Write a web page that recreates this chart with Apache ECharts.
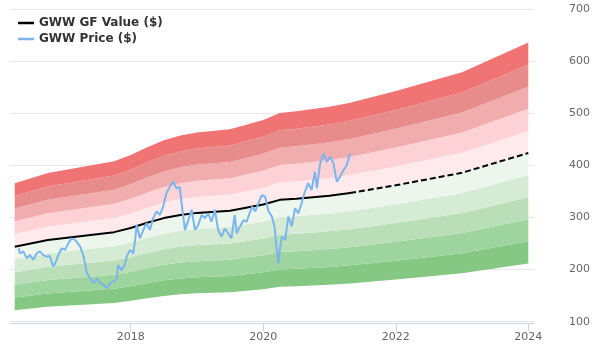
<!DOCTYPE html>
<html>
<head>
<meta charset="utf-8">
<script src="https://cdn.jsdelivr.net/npm/echarts@6/dist/echarts.min.js"></script>
<style>html,body{margin:0;padding:0;background:#fff}#c{width:600px;height:360px}</style>
</head>
<body>
<div id="c"></div>
<script>
// GF Value (decimal years / $)
var gfYears  = [2016.25, 2016.75, 2017.75, 2018.0, 2018.25, 2018.5, 2018.75, 2019.0, 2019.5, 2020.0, 2020.25, 2020.5, 2021.0, 2021.31, 2022.0, 2023.0, 2024.0];
var gfValues = [244, 257, 272, 280, 290, 299, 305, 309, 313, 325, 334, 336, 342, 347, 362, 386, 424];
var gfSolidEnd = 13; // index of last historical GF point (dashed afterwards)

// Price (decimal years / $)
var priceYears = [2016.31,2016.33,2016.38,2016.43,2016.48,2016.53,2016.58,2016.63,2016.68,2016.73,2016.78,2016.83,2016.86,2016.91,2016.96,2017.01,2017.06,2017.11,2017.16,2017.24,2017.29,2017.34,2017.39,2017.44,2017.49,2017.54,2017.59,2017.64,2017.69,2017.74,2017.79,2017.81,2017.86,2017.91,2017.94,2017.99,2018.04,2018.07,2018.09,2018.14,2018.19,2018.24,2018.29,2018.34,2018.39,2018.44,2018.49,2018.54,2018.59,2018.64,2018.69,2018.74,2018.78,2018.82,2018.87,2018.92,2018.97,2019.02,2019.07,2019.12,2019.17,2019.22,2019.27,2019.32,2019.37,2019.42,2019.47,2019.52,2019.57,2019.60,2019.65,2019.70,2019.75,2019.83,2019.88,2019.93,2019.98,2020.03,2020.08,2020.13,2020.17,2020.20,2020.23,2020.25,2020.28,2020.33,2020.38,2020.43,2020.48,2020.53,2020.58,2020.63,2020.68,2020.73,2020.78,2020.81,2020.86,2020.91,2020.96,2021.01,2021.06,2021.11,2021.16,2021.21,2021.26,2021.31];
var priceValues = [241,231,235,222,228,219,231,235,228,225,226,206,212,228,241,238,251,260,257,244,225,193,183,174,183,174,171,164,174,177,183,209,199,209,225,238,231,260,286,260,276,289,276,299,312,305,321,347,359,369,356,359,315,276,295,315,276,286,305,299,308,292,315,276,263,279,270,260,305,270,283,295,292,321,312,328,343,340,312,302,283,244,212,238,263,257,302,283,318,308,328,350,366,353,388,356,404,423,407,417,404,369,379,391,401,423];

// Valuation bands as multiples of GF Value (lower edge first)
var bandLevels = [0.5, 0.6, 0.7, 0.8, 0.9, 1.0, 1.1, 1.2, 1.3, 1.4, 1.5];
var bandColors = ['#84c884','#9ed49d','#badfb8','#d5ebd3','#edf6ec','#feeaec','#fdd2d6','#f1adad','#e88b8b','#f17474'];

var xTicks = [2018, 2020, 2022, 2024];
var yTicks = [100, 200, 300, 400, 500, 600, 700];

var FONT = 'DejaVu Sans';
var series = [];
// band series: items are [value, year] so the stacked dimension is the y value
series.push({
  type: 'line', stack: 'bands', symbol: 'none', silent: true,
  encode: { x: 1, y: 0 },
  lineStyle: { width: 0, opacity: 0 },
  data: gfYears.map(function (y, i) { return [gfValues[i] * bandLevels[0], y]; }),
  z: 1
});
for (var b = 0; b < bandColors.length; b++) {
  (function (b) {
    series.push({
      type: 'line', stack: 'bands', symbol: 'none', silent: true,
      encode: { x: 1, y: 0 },
      lineStyle: { width: 0, opacity: 0 },
      areaStyle: { color: bandColors[b], opacity: 1 },
      data: gfYears.map(function (y, i) { return [gfValues[i] * (bandLevels[b + 1] - bandLevels[b]), y]; }),
      z: 1
    });
  })(b);
}
series.push({
  name: 'GWW GF Value ($)', type: 'line', symbol: 'none', z: 5,
  lineStyle: { color: '#000', width: 2 }, itemStyle: { color: '#000' },
  data: gfYears.slice(0, gfSolidEnd + 1).map(function (y, i) { return [y, gfValues[i]]; })
});
series.push({
  name: 'GWW GF Value ($)', type: 'line', symbol: 'none', z: 5,
  lineStyle: { color: '#000', width: 2, type: [6, 3] }, itemStyle: { color: '#000' },
  data: gfYears.slice(gfSolidEnd).map(function (y, i) { return [y, gfValues[gfSolidEnd + i]]; })
});
series.push({
  name: 'GWW Price ($)', type: 'line', symbol: 'none', z: 6,
  lineStyle: { color: '#7cb5ec', width: 2 }, itemStyle: { color: '#7cb5ec' },
  data: priceYears.map(function (y, i) { return [y, priceValues[i]]; })
});

var chart = echarts.init(document.getElementById('c'), null, { renderer: 'canvas' });
chart.setOption({
  animation: false,
  backgroundColor: '#fff',
  textStyle: { fontFamily: FONT },
  legend: {
    data: ['GWW GF Value ($)', 'GWW Price ($)'],
    orient: 'vertical', left: 18, top: 16, padding: 0, itemGap: 2,
    icon: 'rect', itemWidth: 16, itemHeight: 2.5,
    textStyle: { fontFamily: FONT, fontSize: 12, fontWeight: 'bold', color: '#333', lineHeight: 14 }
  },
  grid: { left: 10, right: 66, top: 9.3, bottom: 38.3 },
  xAxis: {
    type: 'value', min: 2016.179, max: 2024.086, offset: 1.6,
    splitLine: { show: false },
    axisLine: { lineStyle: { color: '#ccd6eb', width: 1 } },
    axisTick: { customValues: xTicks, length: 8, lineStyle: { color: '#ccd6eb' } },
    axisLabel: { customValues: xTicks, color: '#666', fontSize: 11, fontFamily: FONT, margin: 8,
      formatter: function (v) { return String(Math.round(v)); } }
  },
  yAxis: {
    type: 'value', position: 'right', min: yTicks[0], max: yTicks[yTicks.length - 1], interval: 100,
    splitLine: { lineStyle: { color: '#e6e6e6', width: 1 } },
    axisLine: { show: false }, axisTick: { show: false },
    axisLabel: { color: '#666', fontSize: 11, fontFamily: FONT, margin: 35, align: 'left' }
  },
  series: series
});
</script>
</body>
</html>
